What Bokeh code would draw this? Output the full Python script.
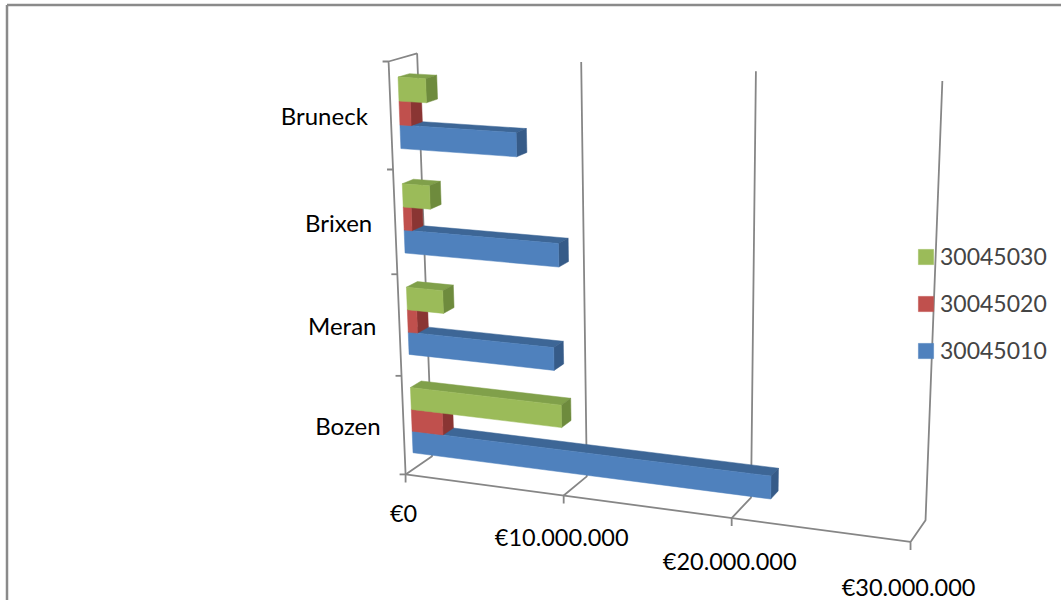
import numpy as np
from bokeh.plotting import figure
from bokeh.models import Range1d, ColumnDataSource, Legend, LegendItem
from bokeh.core.properties import value
from bokeh.embed import file_html
from bokeh.resources import INLINE

# ---------------- data ----------------
categories = ["Bozen", "Meran", "Brixen", "Bruneck"]          # bottom -> top
series_names = ["30045010", "30045020", "30045030"]
s30045010 = [21.9e6, 9.1e6, 9.5e6, 7.1e6]
s30045020 = [2.0e6, 0.6e6, 0.5e6, 0.7e6]
s30045030 = [9.5e6, 2.3e6, 1.7e6, 1.7e6]
tick_values = [0, 10e6, 20e6, 30e6]
tick_labels = ["€0", "€10.000.000", "€20.000.000", "€30.000.000"]

series_values = [s30045010, s30045020, s30045030]
front_colors = ["#4F81BD", "#C0504D", "#9BBB59"]
top_colors = ["#3D6696", "#A3403E", "#80A04A"]
end_colors = ["#365B88", "#8A3533", "#6E8B3D"]

VMAX = tick_values[-1]
NCAT = len(categories)

# ---------------- perspective camera (layout) ----------------
# 3D box: x = value / VMAX, y = category units (0..4), z = depth (0 front .. 1 back)
anchors_3d = [(0, 0, 0), (1/3, 0, 0), (2/3, 0, 0), (1, 0, 0),
              (0, 0, 1), (1/3, 0, 1), (2/3, 0, 1), (1, 0, 1),
              (0, 4, 1), (1/3, 4, 1), (2/3, 4, 1), (1, 4, 1),
              (0, 4, 0), (0, 1, 0), (0, 2, 0), (0, 3, 0)]
anchors_px = [(405, 473), (563, 495), (732, 518), (910, 541),
              (432, 455), (585, 477), (752, 497), (924, 520),
              (417, 54), (580, 60), (757, 70), (941, 81),
              (388, 62), (401, 376), (397, 274), (392, 168)]

A3 = np.array(anchors_3d, float)
A2 = np.array(anchors_px, float)
m = A2.mean(0)
sc = A2.std()
n2 = (A2 - m) / sc
rows = []
for (X, Y, Z), (u, v) in zip(A3, n2):
    rows.append([X, Y, Z, 1, 0, 0, 0, 0, -u * X, -u * Y, -u * Z, -u])
    rows.append([0, 0, 0, 0, X, Y, Z, 1, -v * X, -v * Y, -v * Z, -v])
_, _, Vt = np.linalg.svd(np.array(rows))
Pn = Vt[-1].reshape(3, 4)
T = np.array([[sc, 0, m[0]], [0, sc, m[1]], [0, 0, 1]])
P = T @ Pn


def proj(x, y, z):
    h = P @ np.array([x, y, z, 1.0])
    return float(h[0] / h[2]), float(h[1] / h[2])


# ---------------- figure ----------------
W, H = 1061, 600
p = figure(width=W, height=H, x_range=Range1d(0, W), y_range=Range1d(H, 0),
           output_backend="svg", toolbar_location=None, min_border=0,
           x_axis_location=None, y_axis_location=None)
p.grid.visible = False
p.outline_line_color = None
p.background_fill_color = "white"

# outer chart border (left and top edges visible)
p.multi_line(xs=[[6.5, 6.5], [6.5, 1061]], ys=[[600, 4.5], [4.5, 4.5]], line_color="#8a8a8a", line_width=2.5)

GRID = "#868686"
gx, gy = [], []
for t in tick_values:
    x = t / VMAX
    a = proj(x, 0, 1); b = proj(x, 4, 1); c = proj(x, 0, 0)
    gx.append([b[0], a[0], c[0], c[0]]); gy.append([b[1], a[1], c[1], c[1] + 8])
# front floor edge
a = proj(0, 0, 0); b = proj(1, 0, 0)
gx.append([a[0], b[0]]); gy.append([a[1], b[1]])
# front-left category axis + top side edge
a = proj(0, 0, 0); b = proj(0, NCAT, 0); c = proj(0, NCAT, 1)
gx.append([a[0], b[0], c[0]]); gy.append([a[1], b[1], c[1]])
for k in range(NCAT + 1):
    a = proj(0, k, 0)
    gx.append([a[0] - 6, a[0]]); gy.append([a[1], a[1]])
p.multi_line(xs=gx, ys=gy, line_color=GRID, line_width=1.8)

# ---------------- bars ----------------
BAR = 1 / 4.5
Z0, Z1 = 0.3, 0.7
front_renderers = []
for s, vals in enumerate(series_values):
    fx, fy, tx, ty, ex, ey = [], [], [], [], [], []
    for ci, v in enumerate(vals):
        y0 = ci + (0.75 + s) * BAR
        y1 = y0 + BAR
        x1 = v / VMAX
        front = [proj(0, y0, Z0), proj(x1, y0, Z0), proj(x1, y1, Z0), proj(0, y1, Z0)]
        top = [proj(0, y1, Z0), proj(x1, y1, Z0), proj(x1, y1, Z1), proj(0, y1, Z1)]
        end = [proj(x1, y0, Z0), proj(x1, y0, Z1), proj(x1, y1, Z1), proj(x1, y1, Z0)]
        fx.append([q[0] for q in front]); fy.append([q[1] for q in front])
        tx.append([q[0] for q in top]); ty.append([q[1] for q in top])
        ex.append([q[0] for q in end]); ey.append([q[1] for q in end])
    p.patches(xs=tx, ys=ty, fill_color=top_colors[s], line_color=top_colors[s], line_width=0.5)
    p.patches(xs=ex, ys=ey, fill_color=end_colors[s], line_color=end_colors[s], line_width=0.5)
    r = p.patches(xs=fx, ys=fy, fill_color=front_colors[s], line_color=front_colors[s], line_width=0.5)
    front_renderers.append(r)

# ---------------- texts ----------------
FONT = value("Lato")
cat_pos = [proj(0, ci + 0.5, 0) for ci in range(NCAT)]
cat_src = ColumnDataSource(dict(x=[q[0] for q in cat_pos], y=[q[1] for q in cat_pos], t=categories))
p.text(x="x", y="y", text="t", source=cat_src, text_font=FONT, text_font_size="24px",
       text_align="right", text_baseline="middle", x_offset=-23, text_color="#000000")

val_pos = [proj(t / VMAX, 0, 0) for t in tick_values]
val_src = ColumnDataSource(dict(x=[q[0] for q in val_pos], y=[q[1] for q in val_pos], t=tick_labels,
                                yo=[39 + 2 * i for i in range(len(tick_values))]))
p.text(x="x", y="y", text="t", source=val_src, text_font=FONT, text_font_size="23.5px",
       text_align="center", text_baseline="middle", x_offset=-2, y_offset="yo", text_color="#000000")

# ---------------- legend ----------------
legend = Legend(items=[LegendItem(label=series_names[i], renderers=[front_renderers[i]]) for i in (2, 1, 0)],
                location=(916, 235))
legend.glyph_width = 19
legend.glyph_height = 19
legend.label_height = 30
legend.spacing = 17
legend.padding = 0
legend.margin = 0
legend.label_standoff = 5
legend.border_line_color = None
legend.background_fill_alpha = 0
legend.label_text_font = "Lato"
legend.label_text_font_size = "23px"
legend.label_text_baseline = "middle"
p.add_layout(legend)

open("out.html", "w").write(file_html(p, INLINE))
